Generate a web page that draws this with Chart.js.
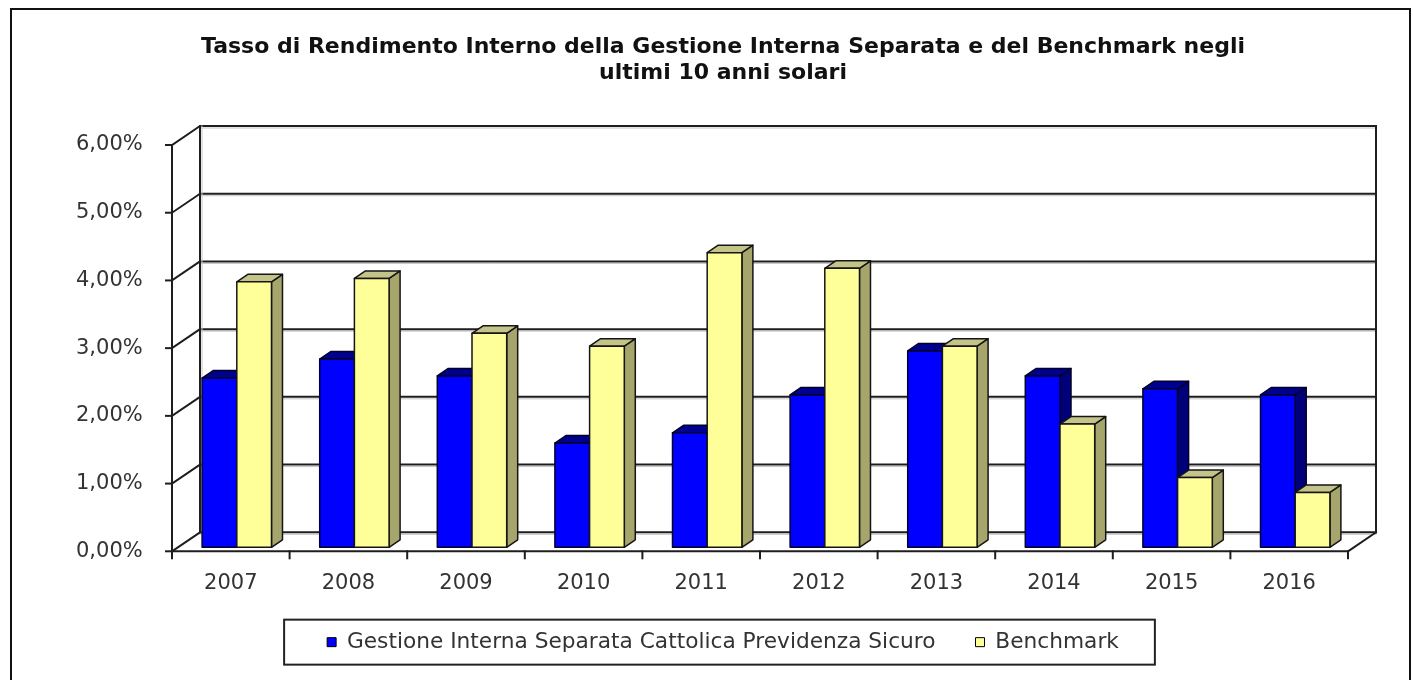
<!DOCTYPE html>
<html lang="it">
<head>
<meta charset="utf-8">
<title>Tasso di Rendimento Interno</title>
<script src="https://cdn.jsdelivr.net/npm/chart.js@4.4.1/dist/chart.umd.min.js"></script>
<style>
    html, body { margin: 0; padding: 0; background: #fff; }
    #contenitore { width: 1413px; height: 680px; }
</style>
</head>
<body>
<div id="contenitore"><canvas id="grafico"></canvas></div>
<script>
var anni = ['2007', '2008', '2009', '2010', '2011', '2012', '2013', '2014', '2015', '2016'];
var gestione = [2.50, 2.78, 2.53, 1.54, 1.69, 2.25, 2.90, 2.53, 2.34, 2.25];
var benchmark = [3.92, 3.97, 3.16, 2.97, 4.35, 4.12, 2.97, 1.82, 1.03, 0.81];
var nomiSerie = ['Gestione Interna Separata Cattolica Previdenza Sicuro', 'Benchmark'];
var titolo = ['Tasso di Rendimento Interno della Gestione Interna Separata e del Benchmark negli', 'ultimi 10 anni solari'];

// profondita' del pavimento / parete di fondo e delle colonne
var PROF_X = 28, PROF_Y = -19;
var BARRA_X = 6, BARRA_Y = -4;
var SPESS_X = 11, SPESS_Y = -7.5;
var LINEA = '#1e1e1e';

var colori = [
    { fronte: '#0000ff', lato: '#00007a', cima: '#00008e', bordo: '#00002a' },
    { fronte: '#ffff99', lato: '#a6a66c', cima: '#c4c48a', bordo: '#151515' }
];

function poligono(ctx, punti, riempi, bordo, spessore) {
    ctx.beginPath();
    ctx.moveTo(punti[0][0], punti[0][1]);
    for (var i = 1; i < punti.length; i++) {
        ctx.lineTo(punti[i][0], punti[i][1]);
    }
    ctx.closePath();
    if (riempi) { ctx.fillStyle = riempi; ctx.fill(); }
    if (bordo) { ctx.strokeStyle = bordo; ctx.lineWidth = spessore || 1; ctx.stroke(); }
}

function linea(ctx, punti, colore, spessore) {
    ctx.beginPath();
    ctx.moveTo(punti[0][0], punti[0][1]);
    for (var i = 1; i < punti.length; i++) {
        ctx.lineTo(punti[i][0], punti[i][1]);
    }
    ctx.strokeStyle = colore;
    ctx.lineWidth = spessore;
    ctx.stroke();
}

var pluginTreD = {
    id: 'treD',
    beforeDatasetsDraw: function (chart) {
        var ctx = chart.ctx;
        var area = chart.chartArea;
        var sx = chart.scales.x, sy = chart.scales.y;
        var sin = area.left, des = area.right;
        var zero = sy.getPixelForValue(0), cima = sy.getPixelForValue(6);

        ctx.save();
        ctx.lineJoin = 'round';
        ctx.lineCap = 'square';

        // griglia: parete di fondo e parete laterale
        sy.ticks.forEach(function (t) {
            var y = sy.getPixelForValue(t.value);
            linea(ctx, [[sin + PROF_X, y + PROF_Y + 2], [des + PROF_X, y + PROF_Y + 2]], '#c4c4c4', 1);
            linea(ctx, [[sin, y], [sin + PROF_X, y + PROF_Y], [des + PROF_X, y + PROF_Y]], LINEA, 2);
            linea(ctx, [[sin - 6, y], [sin, y]], LINEA, 2);
        });
        linea(ctx, [[sin + PROF_X + 2, cima + PROF_Y], [sin + PROF_X + 2, zero + PROF_Y]], '#c8c8c8', 1);
        linea(ctx, [[sin + PROF_X, cima + PROF_Y], [sin + PROF_X, zero + PROF_Y]], LINEA, 2);
        linea(ctx, [[des + PROF_X, cima + PROF_Y], [des + PROF_X, zero + PROF_Y]], LINEA, 2);

        // asse verticale, bordo anteriore del pavimento e tacche delle categorie
        linea(ctx, [[sin, cima], [sin, zero]], LINEA, 2);
        linea(ctx, [[sin, zero], [des, zero], [des + PROF_X, zero + PROF_Y]], LINEA, 2);
        var passo = sx.getPixelForValue(1) - sx.getPixelForValue(0);
        for (var k = 0; k <= anni.length; k++) {
            var bx = sx.getPixelForValue(k) - passo / 2;
            linea(ctx, [[bx, zero], [bx, zero + 7]], LINEA, 2);
        }

        // colonne: per ogni anno prima la serie blu, poi quella gialla
        for (var i = 0; i < anni.length; i++) {
            chart.data.datasets.forEach(function (ds, d) {
                var el = chart.getDatasetMeta(d).data[i];
                var c = colori[d];
                var l = el.x - el.width / 2 + BARRA_X;
                var r = el.x + el.width / 2 + BARRA_X;
                var t = el.y + BARRA_Y;
                var b = el.base + BARRA_Y;
                poligono(ctx, [[r, t], [r + SPESS_X, t + SPESS_Y], [r + SPESS_X, b + SPESS_Y], [r, b]], c.lato, c.bordo, 1.5);
                poligono(ctx, [[l, t], [l + SPESS_X, t + SPESS_Y], [r + SPESS_X, t + SPESS_Y], [r, t]], c.cima, c.bordo, 1.5);
                poligono(ctx, [[l, t], [r, t], [r, b], [l, b]], c.fronte, c.bordo, 1.5);
            });
        }
        ctx.restore();
        return false;
    },
    afterDraw: function (chart) {
        var ctx = chart.ctx;
        ctx.save();
        // cornice esterna
        ctx.strokeStyle = '#111';
        ctx.lineWidth = 2;
        ctx.strokeRect(11, 9, 1399, 720);

        // riquadro della legenda
        var hb = chart.legend.legendHitBoxes;
        if (hb && hb.length) {
            var primo = hb[0], ultimo = hb[hb.length - 1];
            var cy = primo.top + primo.height / 2;
            var x0 = primo.left - 43;
            var x1 = ultimo.left + ultimo.width + 36;
            ctx.strokeStyle = '#222';
            ctx.strokeRect(x0, cy - 22.5, x1 - x0, 45);
        }
        ctx.restore();
    }
};

function percento(v) {
    return v.toFixed(2).replace('.', ',') + '%';
}

document.addEventListener('DOMContentLoaded', function () {
    var fontTesto = { family: '"DejaVu Sans", Verdana, sans-serif', size: 21 };

    new Chart(document.getElementById('grafico'), {
        type: 'bar',
        data: {
            labels: anni,
            datasets: [
                { label: nomiSerie[0], data: gestione, backgroundColor: '#0000ff', borderColor: '#000', borderWidth: 1 },
                { label: nomiSerie[1], data: benchmark, backgroundColor: '#ffff99', borderColor: '#000', borderWidth: 1 }
            ]
        },
        options: {
            responsive: true,
            maintainAspectRatio: false,
            animation: false,
            events: [],
            categoryPercentage: 0.59,
            barPercentage: 1,
            layout: { padding: { left: 98, right: 65, top: 0, bottom: 17 } },
            plugins: {
                title: {
                    display: true,
                    text: titolo,
                    color: '#111',
                    font: { family: '"DejaVu Sans", Verdana, sans-serif', size: 22, weight: 'bold', lineHeight: 1.2 },
                    padding: { top: 33.8, bottom: 58.4 }
                },
                legend: {
                    position: 'bottom',
                    labels: {
                        color: '#333',
                        font: { family: '"DejaVu Sans", Verdana, sans-serif', size: 21.7 },
                        boxWidth: 9,
                        boxHeight: 9,
                        padding: 40
                    }
                },
                tooltip: { enabled: false }
            },
            scales: {
                x: {
                    grid: { display: false, drawTicks: false },
                    border: { display: false },
                    ticks: { color: '#333', font: fontTesto, padding: 20, maxRotation: 0 },
                    afterFit: function (s) { s.height = 40; }
                },
                y: {
                    min: 0,
                    max: 6,
                    grid: { display: false, drawTicks: false },
                    border: { display: false },
                    ticks: { stepSize: 1, color: '#333', font: fontTesto, mirror: true, crossAlign: 'far', padding: -96, callback: percento },
                    afterFit: function (s) { s.width = 74; }
                }
            }
        },
        plugins: [pluginTreD]
    });
});
</script>
</body>
</html>
